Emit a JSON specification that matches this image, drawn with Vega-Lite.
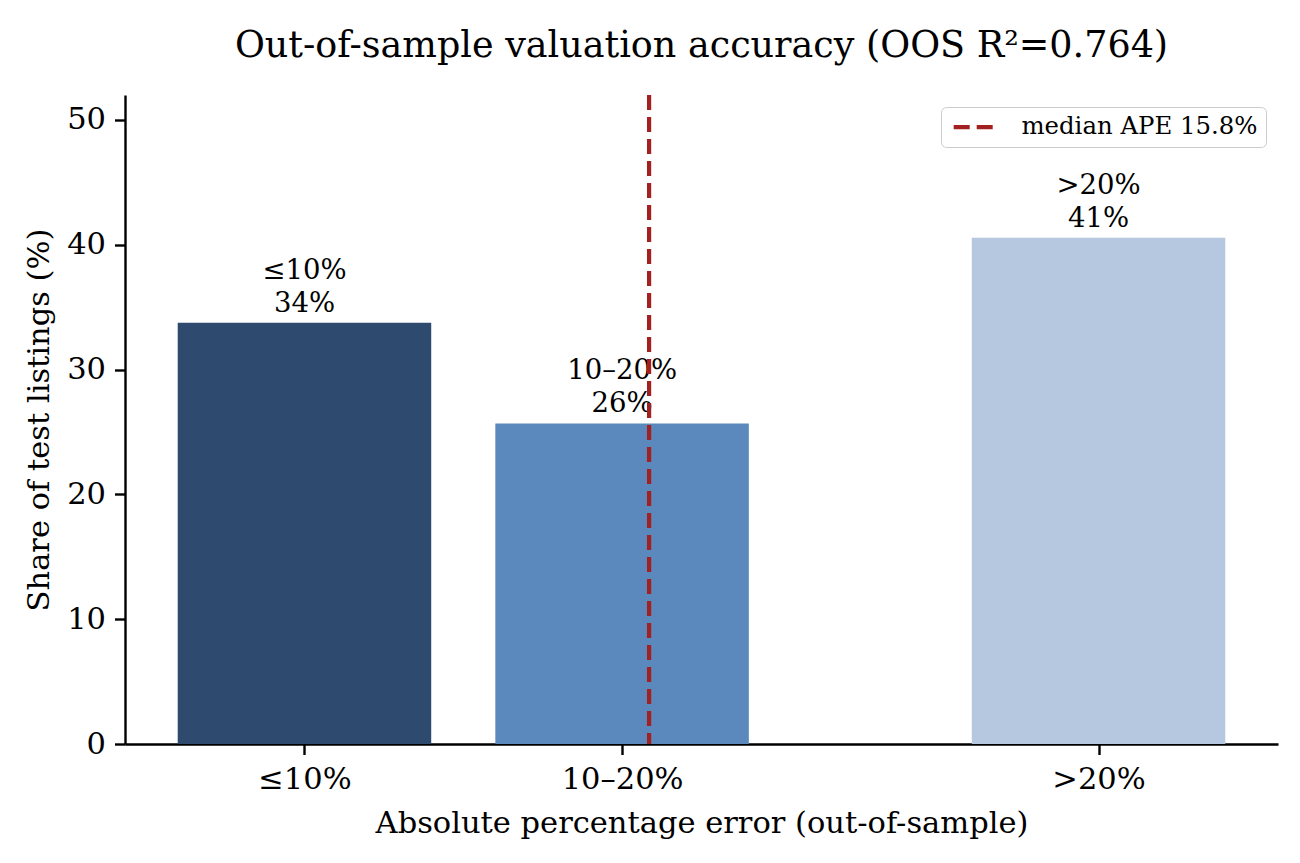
{
  "$schema": "https://vega.github.io/schema/vega-lite/v6.json",
  "description": "Share of test listings by absolute percentage error bucket, with median APE marker",
  "width": 1153,
  "height": 649,
  "autosize": {"type": "none"},
  "padding": {"left": 125, "top": 95, "right": 22, "bottom": 119},
  "background": "white",
  "config": {
    "font": "DejaVu Serif",
    "view": {"stroke": null},
    "axis": {
      "grid": false,
      "domainColor": "black",
      "domainWidth": 2.4,
      "tickColor": "black",
      "tickWidth": 2.4,
      "tickSize": 10.5,
      "labelColor": "black",
      "labelFont": "DejaVu Serif",
      "labelFontSize": 30.5,
      "labelPadding": 9,
      "titleColor": "black",
      "titleFont": "DejaVu Serif",
      "titleFontSize": 30.5,
      "titleFontWeight": "normal"
    }
  },
  "title": {
    "text": "Out-of-sample valuation accuracy (OOS R²=0.764)",
    "font": "DejaVu Serif",
    "fontSize": 36.5,
    "fontWeight": "normal",
    "color": "black",
    "anchor": "middle",
    "baseline": "alphabetic",
    "offset": -1
  },
  "datasets": {
    "bins": [
      {"bin": "≤10%", "center": 5, "share": 33.76},
      {"bin": "10–20%", "center": 15, "share": 25.68},
      {"bin": ">20%", "center": 30, "share": 40.56}
    ],
    "median": [
      {"ape": 15.85, "name": "median APE 15.8%"}
    ]
  },
  "layer": [
    {
      "data": {"name": "bins"},
      "mark": {"type": "bar", "width": 253.5},
      "encoding": {
        "x": {
          "field": "center",
          "type": "quantitative",
          "scale": {"domain": [-0.65, 35.65], "nice": false, "zero": false, "padding": 0},
          "axis": {
            "values": [5, 15, 30],
            "labelExpr": "datum.value == 5 ? '≤10%' : datum.value == 15 ? '10–20%' : '>20%'",
            "labelPadding": 10,
            "title": "Absolute percentage error (out-of-sample)",
            "titlePadding": 13
          }
        },
        "y": {
          "field": "share",
          "type": "quantitative",
          "scale": {"domain": [0, 52], "nice": false},
          "axis": {
            "values": [0, 10, 20, 30, 40, 50],
            "title": "Share of test listings (%)",
            "titlePadding": 12
          }
        },
        "color": {
          "field": "bin",
          "type": "nominal",
          "scale": {
            "domain": ["≤10%", "10–20%", ">20%"],
            "range": ["#2e4a6e", "#5b88bd", "#b6c8e0"]
          },
          "legend": null
        }
      }
    },
    {
      "data": {"name": "bins"},
      "transform": [
        {"calculate": "datum.bin + '\\n' + format(datum.share, '.0f') + '%'", "as": "label"}
      ],
      "mark": {
        "type": "text",
        "baseline": "alphabetic",
        "align": "center",
        "dy": -44,
        "fontSize": 27.5,
        "lineBreak": "\n",
        "lineHeight": 33,
        "color": "black"
      },
      "encoding": {
        "x": {"field": "center", "type": "quantitative"},
        "y": {"field": "share", "type": "quantitative"},
        "text": {"field": "label"}
      }
    },
    {
      "data": {"name": "median"},
      "mark": {"type": "rule", "strokeDash": [15, 7], "strokeWidth": 4.2},
      "encoding": {
        "x": {"field": "ape", "type": "quantitative"},
        "stroke": {
          "field": "name",
          "type": "nominal",
          "scale": {"range": ["#a32020"]},
          "legend": {
            "title": null,
            "orient": "top-right",
            "offset": 12,
            "padding": 8,
            "strokeColor": "#cccccc",
            "cornerRadius": 5,
            "fillColor": "white",
            "labelFont": "DejaVu Serif",
            "labelFontSize": 24.4,
            "labelColor": "black",
            "labelLimit": 500,
            "labelOffset": 48,
            "symbolType": "M-1,0H5",
            "symbolStrokeWidth": 4.2,
            "symbolDash": [16, 7],
            "symbolSize": 225
          }
        }
      }
    }
  ]
}
